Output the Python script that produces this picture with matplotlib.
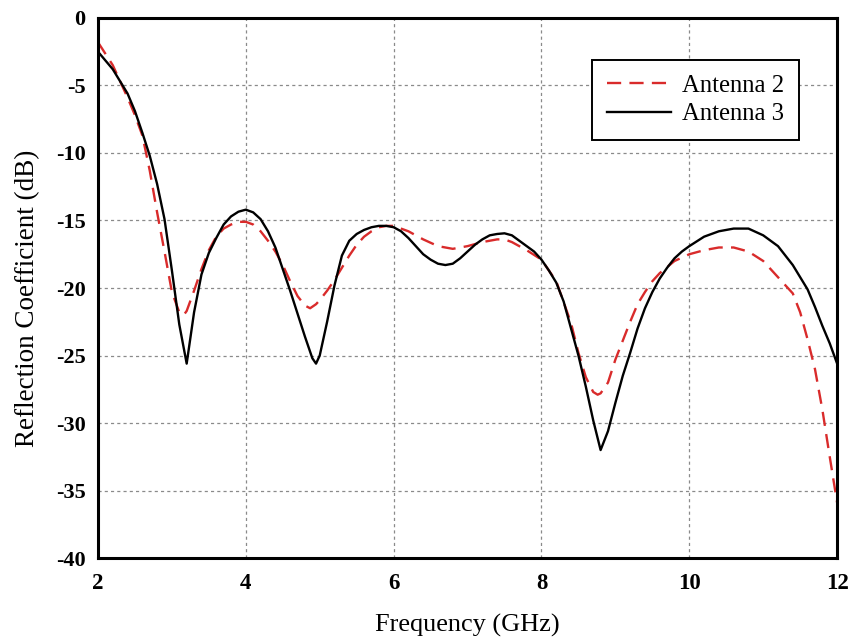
import matplotlib
matplotlib.use("Agg")
import matplotlib.pyplot as plt

plt.rcParams['font.family'] = ['Liberation Serif', 'DejaVu Serif']

# Reflection coefficient (dB) vs frequency (GHz)
freq_ant2 = [2.0, 2.2, 2.4, 2.5, 2.6, 2.7, 2.8, 2.9, 3.0, 3.1, 3.16, 3.2, 3.3, 3.4,
             3.5, 3.6, 3.7, 3.8, 3.9, 4.0, 4.1, 4.2, 4.3, 4.4, 4.5, 4.6, 4.7, 4.8,
             4.87, 4.95, 5.0, 5.1, 5.2, 5.3, 5.4, 5.5, 5.6, 5.7, 5.8, 5.9, 6.0,
             6.2, 6.4, 6.6, 6.8, 7.0, 7.2, 7.4, 7.5, 7.6, 7.8, 8.0, 8.2, 8.4,
             8.5, 8.6, 8.7, 8.76, 8.8, 8.9, 9.0, 9.1, 9.2, 9.3, 9.4, 9.5, 9.6,
             9.8, 10.0, 10.2, 10.4, 10.6, 10.8, 11.0, 11.1, 11.2, 11.3, 11.4,
             11.5, 11.6, 11.7, 11.8, 11.9, 12.0]
s11_ant2 = [-1.8, -3.5, -5.9, -7.2, -8.7, -11.3, -14.4, -17.3, -20.3, -21.8, -22.0,
            -21.7, -20.2, -18.6, -17.2, -16.2, -15.6, -15.3, -15.1, -15.1, -15.3,
            -15.8, -16.5, -17.3, -18.3, -19.5, -20.6, -21.3, -21.5, -21.2, -20.9,
            -20.2, -19.4, -18.5, -17.6, -16.8, -16.2, -15.8, -15.5, -15.4, -15.4,
            -15.8, -16.4, -16.9, -17.1, -16.9, -16.6, -16.4, -16.4, -16.6, -17.2,
            -17.9, -19.5, -22.6, -24.8, -26.6, -27.7, -27.9, -27.8, -27.0, -25.3,
            -23.9, -22.5, -21.2, -20.3, -19.5, -18.9, -18.0, -17.5, -17.2, -17.0,
            -17.0, -17.3, -18.0, -18.6, -19.2, -19.8, -20.4, -21.8, -23.8, -26.0,
            -29.0, -32.5, -35.9]

freq_ant3 = [2.0, 2.2, 2.4, 2.5, 2.6, 2.7, 2.8, 2.9, 3.0, 3.1, 3.2, 3.3, 3.4, 3.5,
             3.6, 3.7, 3.8, 3.9, 4.0, 4.1, 4.2, 4.3, 4.4, 4.5, 4.6, 4.7, 4.8, 4.9,
             4.95, 5.0, 5.1, 5.2, 5.3, 5.4, 5.5, 5.6, 5.7, 5.8, 5.9, 6.0, 6.1,
             6.2, 6.3, 6.4, 6.5, 6.6, 6.7, 6.8, 6.9, 7.0, 7.1, 7.2, 7.3, 7.4, 7.5,
             7.6, 7.7, 7.8, 7.9, 8.0, 8.1, 8.2, 8.3, 8.4, 8.5, 8.6, 8.7, 8.8, 8.9,
             9.0, 9.1, 9.2, 9.3, 9.4, 9.5, 9.6, 9.7, 9.8, 9.9, 10.0, 10.2, 10.4,
             10.6, 10.8, 11.0, 11.2, 11.4, 11.6, 11.7, 11.8, 11.9, 12.0]
s11_ant3 = [-2.5, -3.8, -5.6, -6.9, -8.5, -10.2, -12.3, -14.9, -18.7, -22.7, -25.6,
            -21.8, -19.0, -17.4, -16.3, -15.3, -14.7, -14.35, -14.2, -14.4, -14.9,
            -15.8, -17.0, -18.6, -20.2, -21.9, -23.6, -25.2, -25.6, -25.0, -22.5,
            -19.8, -17.6, -16.5, -16.0, -15.7, -15.5, -15.4, -15.4, -15.5, -15.8,
            -16.3, -16.9, -17.5, -17.9, -18.2, -18.3, -18.2, -17.8, -17.3, -16.8,
            -16.4, -16.1, -16.0, -15.95, -16.1, -16.5, -16.9, -17.3, -17.9, -18.7,
            -19.6, -21.0, -23.0, -25.0, -27.3, -29.8, -32.0, -30.6, -28.5, -26.5,
            -24.8, -23.0, -21.5, -20.3, -19.3, -18.5, -17.8, -17.3, -16.9, -16.2,
            -15.8, -15.6, -15.6, -16.1, -16.9, -18.3, -20.1, -21.4, -22.8, -24.1,
            -25.6]

x_ticks = [2, 4, 6, 8, 10, 12]
y_ticks = [0, -5, -10, -15, -20, -25, -30, -35, -40]

fig = plt.figure(figsize=(8.55, 6.4), dpi=100)
ax = fig.add_axes([0.1146, 0.128, 0.8645, 0.844])

ax.plot(freq_ant2, s11_ant2, color='#d92b2b', lw=1.7, ls=(0, (6, 3.5)), label='Antenna 2')
ax.plot(freq_ant3, s11_ant3, color='black', lw=1.7, label='Antenna 3')

ax.set_xlim(2, 12)
ax.set_ylim(-40, 0)
ax.set_xticks(x_ticks)
ax.set_yticks(y_ticks)
ax.set_xticklabels([str(t) for t in x_ticks], fontsize=16.5, fontweight='bold')
ax.set_yticklabels([str(t) for t in y_ticks], fontsize=16, fontweight='bold')
ax.tick_params(axis='x', length=0, pad=11)
ax.tick_params(axis='y', length=0, pad=9)

ax.grid(True, color='#8a8a8a', ls=(0, (2.5, 2.5)), lw=0.9)
for sp in ax.spines.values():
    sp.set_linewidth(2.2)

ax.set_xlabel('Frequency (GHz)', fontsize=18.9)
ax.set_ylabel('Reflection Coefficient (dB)', fontsize=19.5)
ax.xaxis.set_label_coords(0.5, -0.104)
ax.yaxis.set_label_coords(-0.0784, 0.481)

leg = ax.legend(loc='upper right', bbox_to_anchor=(0.9486, 0.9227), fontsize=17.8,
                frameon=True, fancybox=False, framealpha=1, edgecolor='black',
                handlelength=2.6, handletextpad=0.45, labelspacing=0.25,
                borderpad=0.6, borderaxespad=0)
leg.get_frame().set_linewidth(1.4)

fig.savefig('out.png', dpi=100)
